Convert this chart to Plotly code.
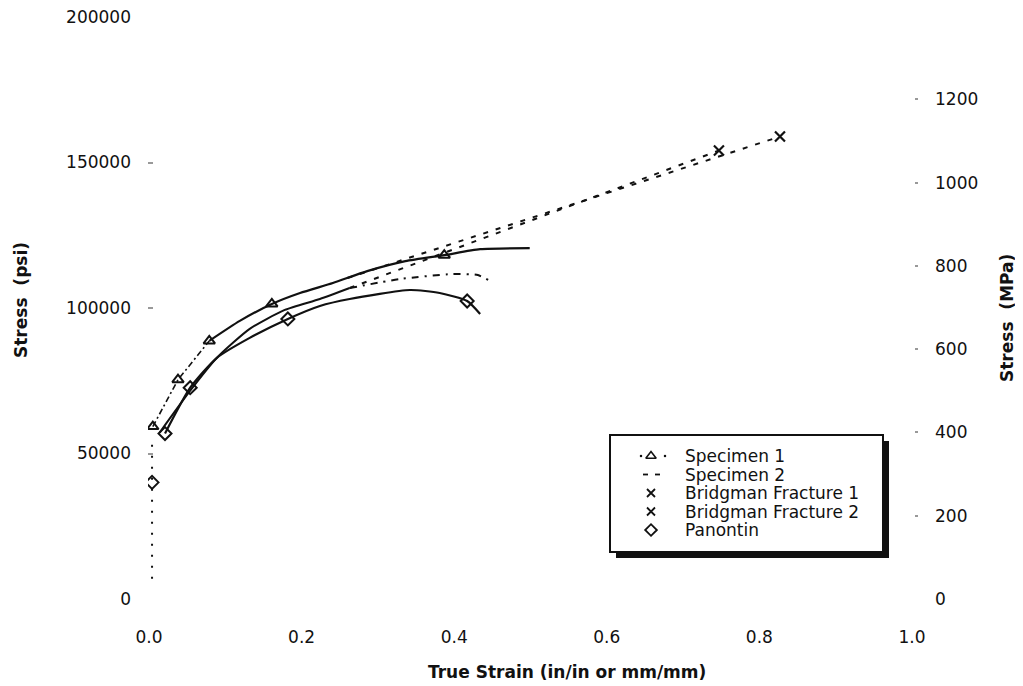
import plotly.graph_objects as go

# ---------------- data ----------------
# Specimen 1 (true strain, stress psi)
spec1_x = [0.005, 0.038, 0.079, 0.119, 0.161, 0.198, 0.241, 0.286, 0.336, 0.387, 0.434, 0.499]
spec1_y = [59250, 75350, 88700, 95560, 101380, 105150, 108570, 112680, 116110, 118160, 120220, 120560]
spec1_marker_idx = [0, 1, 2, 4, 9]

# Specimen 2
spec2_x = [0.014, 0.054, 0.089, 0.132, 0.178, 0.224, 0.263, 0.329, 0.398, 0.431, 0.447]
spec2_y = [57200, 71580, 82890, 92820, 99330, 103090, 106860, 109940, 111660, 111310, 109260]

# Panontin
pan_x = [0.004, 0.021, 0.054, 0.089, 0.132, 0.182, 0.224, 0.263, 0.342, 0.381, 0.417, 0.434]
pan_y = [40070, 56860, 72610, 82890, 89740, 96240, 100700, 103090, 106180, 105150, 102410, 97960]
pan_marker_idx = [0, 1, 2, 5, 10]

# elastic (vertical dotted) part
elastic_x = [0.004, 0.004]
elastic_y = [7000, 55000]

# Bridgman fracture extensions: start on curve -> fracture point
frac1_x = [0.26, 0.827]
frac1_y = [110300, 158920]
frac2_x = [0.263, 0.747]
frac2_y = [106860, 154130]

x_ticks = [0.0, 0.2, 0.4, 0.6, 0.8, 1.0]
psi_ticks = [0, 50000, 100000, 150000, 200000]
mpa_ticks = [0, 200, 400, 600, 800, 1000, 1200]
MPA_TOP = 1398   # right-axis value at the top of the plot

legend_names = ["Specimen 1", "Specimen 2", "Bridgman Fracture 1",
                "Bridgman Fracture 2", "Panontin"]

FONT = "DejaVu Sans"
INK = "#111111"

# ---------------- layout geometry (pixels) ----------------
FIG_W, FIG_H = 1015, 678
M_L, M_R, M_T, M_B = 140, 105, 9, 87
PW = FIG_W - M_L - M_R   # plot width (770)
PH = FIG_H - M_T - M_B   # plot height (582)
X_RANGE = [-0.0013, 1.0079]


def px_x(p):   # page pixel -> paper x (page has 8px body offset)
    return (p - 8 - M_L) / PW


def px_y(p):   # page pixel -> paper y
    return (FIG_H - M_B + 8 - p) / PH


fig = go.Figure()

# Specimen 1: early dash-dot portion, then solid
fig.add_trace(go.Scatter(x=spec1_x[:3], y=spec1_y[:3], mode="lines",
                         line=dict(color=INK, width=1.6, dash="6px,3px,2px,3px"),
                         showlegend=False))
fig.add_trace(go.Scatter(x=spec1_x[2:], y=spec1_y[2:], mode="lines",
                         line=dict(color=INK, width=2.2, shape="spline", smoothing=0.6),
                         showlegend=False))
fig.add_trace(go.Scatter(x=[spec1_x[i] for i in spec1_marker_idx],
                         y=[spec1_y[i] for i in spec1_marker_idx],
                         mode="markers",
                         marker=dict(symbol="triangle-up-open", size=10, color=INK,
                                     line=dict(width=2, color=INK)),
                         showlegend=False))

# Specimen 2: solid then dash-dot
fig.add_trace(go.Scatter(x=spec2_x[:7], y=spec2_y[:7], mode="lines",
                         line=dict(color=INK, width=2, shape="spline", smoothing=0.6),
                         showlegend=False))
fig.add_trace(go.Scatter(x=spec2_x[6:], y=spec2_y[6:], mode="lines",
                         line=dict(color=INK, width=2, dash="7px,6px,2px,6px",
                                   shape="spline", smoothing=0.6),
                         showlegend=False))

# Panontin
fig.add_trace(go.Scatter(x=elastic_x, y=elastic_y, mode="lines",
                         line=dict(color=INK, width=2, dash="2px,9px"),
                         showlegend=False))
fig.add_trace(go.Scatter(x=pan_x[1:], y=pan_y[1:], mode="lines",
                         line=dict(color=INK, width=2.2, shape="spline", smoothing=0.6),
                         showlegend=False))
fig.add_trace(go.Scatter(x=[pan_x[i] for i in pan_marker_idx],
                         y=[pan_y[i] for i in pan_marker_idx],
                         mode="markers",
                         marker=dict(symbol="diamond-open", size=10, color=INK,
                                     line=dict(width=2, color=INK)),
                         showlegend=False))

# Bridgman extensions
for fx, fy in ((frac1_x, frac1_y), (frac2_x, frac2_y)):
    fig.add_trace(go.Scatter(x=fx, y=fy, mode="lines",
                             line=dict(color=INK, width=2, dash="5px,8px"),
                             showlegend=False))
    fig.add_trace(go.Scatter(x=fx[-1:], y=fy[-1:], mode="markers",
                             marker=dict(symbol="x-thin", size=10, color=INK,
                                         line=dict(width=2.2, color=INK)),
                             showlegend=False))

# secondary axis carrier (invisible)
fig.add_trace(go.Scatter(x=[None], y=[None], yaxis="y2", showlegend=False))

# ---------------- hand-drawn legend (box with drop shadow) ----------------
leg_left, leg_right, leg_top, leg_bot = 610, 883, 435, 552
shadow = 6
row_y = [456, 474.5, 493, 511.5, 530]
sym_x = 651
text_x = 683

# legend symbols drawn on an overlay axis that spans the paper [0,1]
LEG = dict(xaxis="x2", yaxis="y3", showlegend=False, hoverinfo="skip")
# Specimen 1: dotted + triangle
fig.add_trace(go.Scatter(x=[px_x(641), px_x(665)], y=[px_y(row_y[0])] * 2, mode="markers",
                         marker=dict(symbol="circle", size=2.5, color=INK), **LEG))
fig.add_trace(go.Scatter(x=[px_x(sym_x)], y=[px_y(row_y[0])], mode="markers",
                         marker=dict(symbol="triangle-up-open", size=9, color=INK,
                                     line=dict(width=1.6, color=INK)), **LEG))
# Specimen 2: short dashes
fig.add_trace(go.Scatter(x=[px_x(643), px_x(648), None, px_x(655), px_x(660)],
                         y=[px_y(row_y[1])] * 2 + [None] + [px_y(row_y[1])] * 2,
                         mode="lines", line=dict(color=INK, width=1.8), **LEG))
# Bridgman 1 & 2: crosses
fig.add_trace(go.Scatter(x=[px_x(sym_x)] * 2, y=[px_y(row_y[2]), px_y(row_y[3])],
                         mode="markers",
                         marker=dict(symbol="x-thin", size=8, color=INK,
                                     line=dict(width=1.8, color=INK)), **LEG))
# Panontin: diamond
fig.add_trace(go.Scatter(x=[px_x(sym_x)], y=[px_y(row_y[4])], mode="markers",
                         marker=dict(symbol="diamond-open", size=9, color=INK,
                                     line=dict(width=1.8, color=INK)), **LEG))

annotations = [
    dict(text="<b>True Strain (in/in or mm/mm)</b>", xref="paper", yref="paper",
         x=px_x(567), y=px_y(672), showarrow=False, xanchor="center", yanchor="middle",
         font=dict(family=FONT, size=17, color=INK)),
    dict(text="<b>Stress  (psi)</b>", xref="paper", yref="paper",
         x=px_x(21), y=px_y(300), showarrow=False, textangle=-90,
         xanchor="center", yanchor="middle",
         font=dict(family=FONT, size=17, color=INK)),
    dict(text="<b>Stress  (MPa)</b>", xref="paper", yref="paper",
         x=px_x(1007), y=px_y(318), showarrow=False, textangle=-90,
         xanchor="center", yanchor="middle",
         font=dict(family=FONT, size=17, color=INK)),
]
for name, ry in zip(legend_names, row_y):
    annotations.append(dict(text=name, xref="paper", yref="paper",
                            x=px_x(text_x), y=px_y(ry), showarrow=False,
                            xanchor="left", yanchor="middle",
                            font=dict(family=FONT, size=17, color=INK)))

shapes = [
    dict(type="rect", xref="paper", yref="paper",
         x0=px_x(leg_left + shadow), x1=px_x(leg_right + shadow),
         y0=px_y(leg_bot + shadow), y1=px_y(leg_top + shadow),
         fillcolor=INK, line=dict(width=0), layer="below"),
    dict(type="rect", xref="paper", yref="paper",
         x0=px_x(leg_left), x1=px_x(leg_right),
         y0=px_y(leg_bot), y1=px_y(leg_top),
         fillcolor="white", line=dict(color=INK, width=2), layer="below"),
]

fig.update_layout(
    width=FIG_W, height=FIG_H,
    margin=dict(l=M_L, r=M_R, t=M_T, b=M_B, autoexpand=False),
    paper_bgcolor="white", plot_bgcolor="rgba(0,0,0,0)",
    font=dict(family=FONT, size=17, color=INK),
    showlegend=False,
    xaxis=dict(range=X_RANGE, tickvals=x_ticks,
               ticktext=[f"{v:.1f}" for v in x_ticks],
               showgrid=False, zeroline=False, showline=False, automargin=False,
               ticks="", ticklabelstandoff=26, ticklabeloverflow="allow"),
    xaxis2=dict(range=[0, 1], overlaying="x", visible=False, automargin=False),
    yaxis=dict(range=[0, 200000], tickvals=psi_ticks,
               ticktext=[str(v) for v in psi_ticks],
               showgrid=False, zeroline=False, showline=False, automargin=False,
               ticks="inside", ticklen=5, tickwidth=2, tickcolor="#999999",
               ticklabelstandoff=16, ticklabeloverflow="allow"),
    yaxis2=dict(range=[0, MPA_TOP], tickvals=mpa_ticks,
                ticktext=[str(v) for v in mpa_ticks],
                overlaying="y", side="right", anchor="x", automargin=False,
                showgrid=False, zeroline=False, showline=False,
                ticks="inside", ticklen=3, tickwidth=2, tickcolor="#999999",
                ticklabelstandoff=16, ticklabeloverflow="allow"),
    yaxis3=dict(range=[0, 1], overlaying="y", anchor="x2", visible=False,
                automargin=False),
    shapes=shapes,
    annotations=annotations,
)

fig.write_html("out.html")
